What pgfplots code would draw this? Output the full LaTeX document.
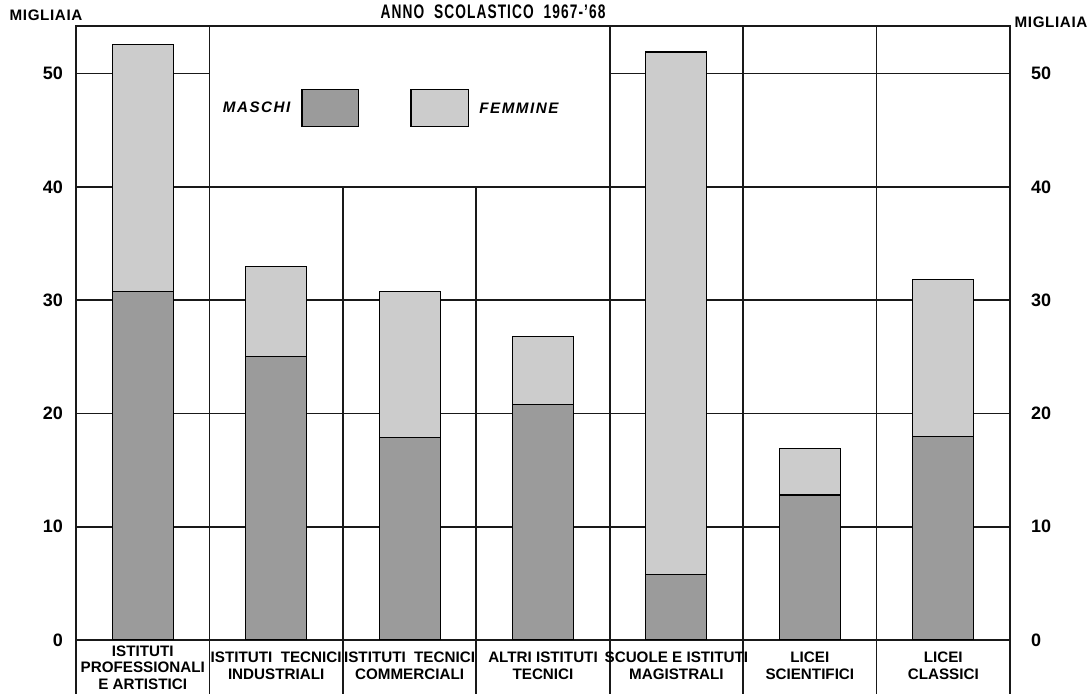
\documentclass[border=0pt]{standalone}
\usepackage{fontspec}
\setmainfont{Liberation Sans}
\usepackage{graphicx}
\usepackage{pgfplots}
\pgfplotsset{compat=1.18}
\usetikzlibrary{calc}

\definecolor{maschi}{RGB}{155,155,155}
\definecolor{femmine}{RGB}{204,204,204}
\definecolor{linea}{RGB}{25,25,25}

% migliaia di iscritti: maschi (m), femmine (f)
\pgfplotstableread{
x m f
0 30.8 21.8
1 25.0 8.0
2 17.9 12.9
3 20.8 6.0
4 5.8 46.1
5 12.8 4.1
6 18.0 13.8
}\dati

\newcommand{\lbl}{\bfseries\fontsize{7.6}{8.7}\selectfont}

\begin{document}
\begin{tikzpicture}

% asse di sinistra: griglia, etichette, legenda
\begin{axis}[
    name=ax, anchor=south west,
    scale only axis, width=467pt, height=307pt,
    xmin=-0.5, xmax=6.5, ymin=0, ymax=54.2,
    xtick=\empty, ytick={0,10,...,50}, ytick pos=left,
    major tick length=0pt,
    axis line style={linea, line width=0.8pt},
    /pgf/number format/assume math mode=true,
    yticklabel style={font=\bfseries\fontsize{9}{9}\selectfont, xshift=-3pt},
    clip=false,
]
    \addplot[draw=none] coordinates {(0,0)};
    % --- griglia ---
    \begin{scope}[linea, line width=0.8pt]
    \draw (axis cs:-0.5,10) -- (axis cs:6.5,10);
    \draw (axis cs:-0.5,20) -- (axis cs:6.5,20);
    \draw (axis cs:-0.5,30) -- (axis cs:6.5,30);
    \draw (axis cs:-0.5,40) -- (axis cs:6.5,40);
    \draw (axis cs:-0.5,50) -- (axis cs:0.5,50);
    \draw (axis cs:3.5,50) -- (axis cs:6.5,50);
    % divisori tra categorie (anche nella fascia delle etichette)
    \draw (axis cs:-0.5,0) -- (axis cs:-0.5,-4.8);
    \draw (axis cs:0.5,54.2) -- (axis cs:0.5,-4.8);
    \draw (axis cs:1.5,40) -- (axis cs:1.5,-4.8);
    \draw (axis cs:2.5,40) -- (axis cs:2.5,-4.8);
    \draw (axis cs:3.5,54.2) -- (axis cs:3.5,-4.8);
    \draw (axis cs:4.5,54.2) -- (axis cs:4.5,-4.8);
    \draw (axis cs:5.5,54.2) -- (axis cs:5.5,-4.8);
    \draw (axis cs:6.5,0) -- (axis cs:6.5,-4.8);
    \end{scope}

    % --- legenda ---
    \draw[fill=maschi, draw=black, line width=0.55pt] (axis cs:1.194,48.6) rectangle (axis cs:1.614,45.3);
    \draw[fill=femmine, draw=black, line width=0.55pt] (axis cs:2.011,48.6) rectangle (axis cs:2.439,45.3);
    \node[anchor=east, font=\bfseries\itshape\fontsize{7.6}{9}\selectfont\addfontfeature{LetterSpace=10}]
        at (axis cs:1.16,47.0) {MASCHI};
    \node[anchor=west, font=\bfseries\itshape\fontsize{7.6}{9}\selectfont\addfontfeature{LetterSpace=10}]
        at (axis cs:2.47,46.9) {FEMMINE};

    % --- etichette delle categorie ---
    \node[font=\bfseries\fontsize{7.6}{8.4}\selectfont, align=center, inner sep=0pt]
        at (axis cs:0,-2.45) {ISTITUTI\\PROFESSIONALI\\E ARTISTICI};
    \node[font=\lbl, align=center] at (axis cs:1,-2.25) {ISTITUTI\ \ TECNICI\\INDUSTRIALI};
    \node[font=\lbl, align=center] at (axis cs:2,-2.25) {ISTITUTI\ \ TECNICI\\COMMERCIALI};
    \node[font=\lbl, align=center] at (axis cs:3,-2.25) {ALTRI ISTITUTI\\TECNICI};
    \node[font=\lbl, align=center] at (axis cs:4,-2.25) {SCUOLE E ISTITUTI\\MAGISTRALI};
    \node[font=\lbl, align=center] at (axis cs:5,-2.25) {LICEI\\SCIENTIFICI};
    \node[font=\lbl, align=center] at (axis cs:6,-2.25) {LICEI\\CLASSICI};
\end{axis}

% asse di destra con le barre (disegnate sopra la griglia)
\begin{axis}[
    at={(ax.south west)}, anchor=south west,
    scale only axis, width=467pt, height=307pt,
    xmin=-0.5, xmax=6.5, ymin=0, ymax=54.2,
    ybar stacked, bar width=0.457,
    axis x line=none, axis y line*=right,
    ytick={0,10,...,50}, major tick length=0pt,
    axis line style={linea, line width=0.8pt},
    /pgf/number format/assume math mode=true,
    yticklabel style={font=\bfseries\fontsize{9}{9}\selectfont, xshift=7pt},
]
    \addplot[fill=maschi, draw=black, line width=0.55pt] table[x=x, y=m] {\dati};
    \addplot[fill=femmine, draw=black, line width=0.55pt] table[x=x, y=f] {\dati};
\end{axis}

% origine della pagina: 38pt a sinistra e 27pt sotto l'angolo dell'asse
\coordinate (O) at ($(ax.south west)+(-38pt,-27pt)$);
\node[font=\lbl\addfontfeature{LetterSpace=4}] at ($(O)+(23pt,339.5pt)$) {MIGLIAIA};
\node[font=\lbl\addfontfeature{LetterSpace=4}] at ($(O)+(525.5pt,336pt)$) {MIGLIAIA};
\node[font=\bfseries\fontsize{9.8}{10}\selectfont] at ($(O)+(246.5pt,341pt)$)
    {\scalebox{0.7}[1]{\addfontfeature{LetterSpace=8}ANNO\ \ SCOLASTICO\ \ 1967-'68}};

\pgfresetboundingbox
\path[use as bounding box] (O) rectangle ($(O)+(545.5pt,347pt)$);
\end{tikzpicture}
\end{document}
